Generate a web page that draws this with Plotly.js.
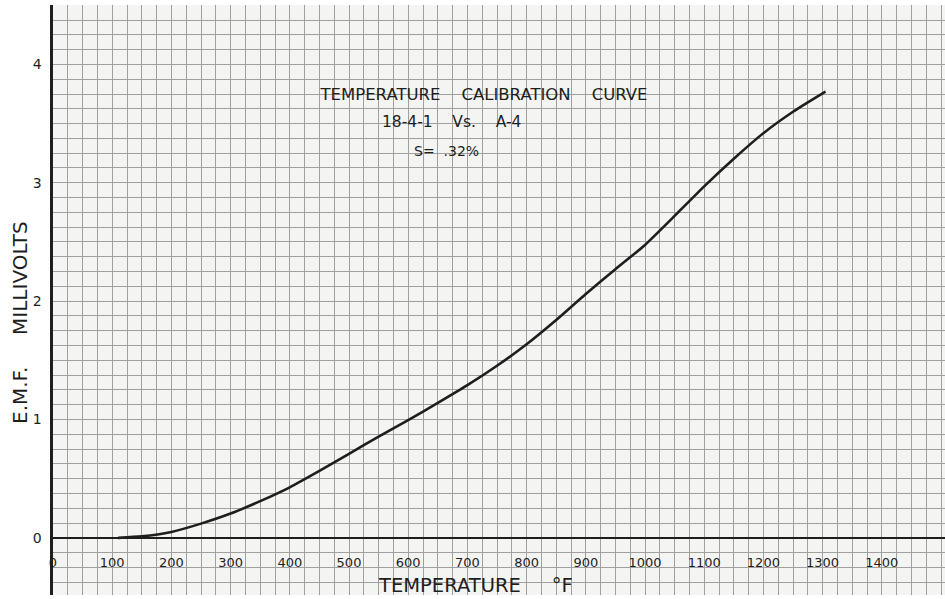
<!DOCTYPE html>
<html>
<head>
<meta charset="utf-8">
<script src="https://cdn.plot.ly/plotly-3.0.1.min.js"></script>
<style>html,body{margin:0;padding:0;background:#fff;}#chart{width:945px;height:599px;}</style>
</head>
<body>
<div id="chart"></div>
<script>
// Temperature (°F) and EMF (millivolts)
const temperatureF = [110, 150, 200, 250, 300, 350, 400, 450, 500, 550, 600, 650, 700, 750, 800, 850, 900, 950, 1000, 1050, 1100, 1150, 1200, 1250, 1300, 1305];
const emfMillivolts = [0.0, 0.012, 0.05, 0.12, 0.205, 0.31, 0.427, 0.565, 0.71, 0.855, 0.995, 1.14, 1.29, 1.454, 1.635, 1.84, 2.06, 2.27, 2.475, 2.72, 2.97, 3.203, 3.419, 3.6, 3.755, 3.77];

const xTickVals = [0, 100, 200, 300, 400, 500, 600, 700, 800, 900, 1000, 1100, 1200, 1300, 1400];
const xTickText = ['0', '100', '200', '300', '400', '500', '600', '700', '800', '900', '1000', '1100', '1200', '1300', '1400'];
const yTickVals = [0, 1, 2, 3, 4];
const yTickText = ['0', '1', '2', '3', '4'];

const titleLines = ['TEMPERATURE&nbsp;&nbsp;&nbsp;&nbsp;CALIBRATION&nbsp;&nbsp;&nbsp;&nbsp;CURVE', '18-4-1&nbsp;&nbsp;&nbsp;&nbsp;Vs.&nbsp;&nbsp;&nbsp;&nbsp;A-4', 'S=&nbsp;&nbsp;.32%'];
const xTitle = 'TEMPERATURE&nbsp;&nbsp;&nbsp;&nbsp;&nbsp;°F';
const yTitle = 'E.M.F.&nbsp;&nbsp;&nbsp;&nbsp;&nbsp;MILLIVOLTS';

const ink = '#1e1e1e';
const gridCol = '#a0a0a0';
const fontFam = 'DejaVu Sans, Verdana, sans-serif';

const trace = {
  x: temperatureF,
  y: emfMillivolts,
  type: 'scatter',
  mode: 'lines',
  line: {color: ink, width: 2.6, shape: 'spline', smoothing: 0.6},
  hoverinfo: 'x+y',
  showlegend: false
};

const layout = {
  width: 945,
  height: 599,
  margin: {l: 53, r: 0, t: 5, b: 4, pad: 0},
  paper_bgcolor: '#ffffff',
  plot_bgcolor: '#f4f4f3',
  showlegend: false,
  title: {
    text: titleLines[0],
    font: {family: fontFam, size: 16.5, color: ink},
    xref: 'paper', x: (484 - 53) / 892, xanchor: 'center',
    yref: 'container', y: 1 - 94 / 599, yanchor: 'middle'
  },
  xaxis: {
    range: [0, 892 / 0.592],
    anchor: 'free',
    position: 0.483 / 4.985,
    tickmode: 'array',
    tickvals: xTickVals,
    ticktext: xTickText,
    ticks: '',
    ticklabelstandoff: 15,
    tickfont: {family: fontFam, size: 13, color: ink},
    showline: false,
    zeroline: false,
    showgrid: true,
    gridcolor: gridCol,
    gridwidth: 1,
    minor: {dtick: 25, tick0: 0, showgrid: true, gridcolor: gridCol, gridwidth: 1, ticks: ''},
    fixedrange: true
  },
  yaxis: {
    range: [-0.483, 4.502],
    tickmode: 'array',
    tickvals: yTickVals,
    ticktext: yTickText,
    ticks: '',
    ticklabelstandoff: 6,
    tickfont: {family: fontFam, size: 14, color: ink},
    showline: true,
    linecolor: ink,
    linewidth: 2.6,
    zeroline: true,
    zerolinecolor: ink,
    zerolinewidth: 2.6,
    showgrid: true,
    gridcolor: gridCol,
    gridwidth: 1,
    minor: {dtick: 0.125, tick0: 0, showgrid: true, gridcolor: gridCol, gridwidth: 1, ticks: ''},
    fixedrange: true
  },
  annotations: [
    {text: titleLines[1], xref: 'paper', yref: 'paper', x: (451 - 53) / 892, y: 1 - (122 - 5) / 590,
     xanchor: 'center', yanchor: 'middle', showarrow: false, font: {family: fontFam, size: 15.5, color: ink}},
    {text: titleLines[2], xref: 'paper', yref: 'paper', x: (446 - 53) / 892, y: 1 - (151 - 5) / 590,
     xanchor: 'center', yanchor: 'middle', showarrow: false, font: {family: fontFam, size: 14, color: ink}},
    {text: xTitle, xref: 'paper', yref: 'paper', x: (475 - 53) / 892, y: 1 - (585 - 5) / 590,
     xanchor: 'center', yanchor: 'middle', showarrow: false, font: {family: fontFam, size: 19.5, color: ink}},
    {text: yTitle, xref: 'paper', yref: 'paper', x: (20 - 53) / 892, y: 1 - (323 - 5) / 590,
     xanchor: 'center', yanchor: 'middle', textangle: -90, showarrow: false, font: {family: fontFam, size: 20, color: ink}}
  ]
};

Plotly.newPlot('chart', [trace], layout, {displayModeBar: false, staticPlot: true});
</script>
</body>
</html>
